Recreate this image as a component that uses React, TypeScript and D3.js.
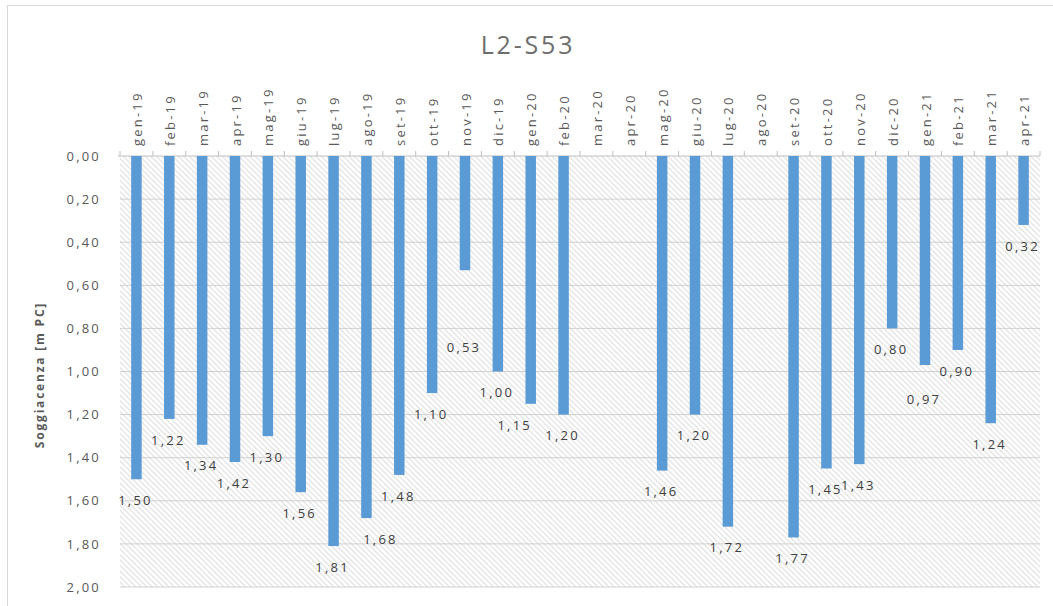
import React from "react";
import * as d3 from "d3";

const title = "L2-S53";
const yAxisTitle = "Soggiacenza [m PC]";
const categories = [
  "gen-19", "feb-19", "mar-19", "apr-19", "mag-19", "giu-19", "lug-19", "ago-19",
  "set-19", "ott-19", "nov-19", "dic-19", "gen-20", "feb-20", "mar-20", "apr-20",
  "mag-20", "giu-20", "lug-20", "ago-20", "set-20", "ott-20", "nov-20", "dic-20",
  "gen-21", "feb-21", "mar-21", "apr-21",
];
const values: (number | null)[] = [
  1.5, 1.22, 1.34, 1.42, 1.3, 1.56, 1.81, 1.68,
  1.48, 1.1, 0.53, 1.0, 1.15, 1.2, null, null,
  1.46, 1.2, 1.72, null, 1.77, 1.45, 1.43, 0.8,
  0.97, 0.9, 1.24, 0.32,
];
const yTicks = [0, 0.2, 0.4, 0.6, 0.8, 1.0, 1.2, 1.4, 1.6, 1.8, 2.0];

// label nudges (layout only) for labels moved in the original
const labelNudge: Record<string, [number, number]> = {
  "ago-19": [15, 0],
  "nov-19": [0, 56],
  "gen-20": [-15, 0],
  "gen-21": [0, 13],
};

const W = 1053;
const H = 606;
const M = { left: 120, right: 1040, top: 156, bottom: 587 };

const fmt = (v: number) => v.toFixed(2).replace(".", ",");

export default function App() {
  const x = d3.scaleBand<string>().domain(categories).range([M.left, M.right]).paddingInner(0).paddingOuter(0);
  const y = d3.scaleLinear().domain([0, 2]).range([M.top, M.bottom]);
  const barW = 10.5;
  const font = "'Open Sans', 'Liberation Sans', Arial, sans-serif";
  const bw = x.bandwidth();

  return (
    <svg width={W} height={H} style={{ position: "absolute", left: 0, top: 0, background: "#fff" }} fontFamily={font}>
      <defs>
        <pattern id="hatch" patternUnits="userSpaceOnUse" width={5.5} height={5.5}>
          <rect width={5.5} height={5.5} fill="#ffffff" />
          <path d="M-1,-1 L6.5,6.5 M-6.5,-1 L1,6.5 M4.5,-1 L12,6.5" stroke="#dadada" strokeWidth={1} />
        </pattern>
      </defs>
      <rect x={7.5} y={5.5} width={1070} height={640} fill="#fff" stroke="#d9d9d9" strokeWidth={1} />
      <text x={528} y={54} textAnchor="middle" fontSize={25} letterSpacing={2.8} fill="#6e6e6e">{title}</text>

      <rect x={M.left} y={M.top} width={M.right - M.left} height={M.bottom - M.top} fill="url(#hatch)" />

      {yTicks.map((t) => (
        <g key={t}>
          {t > 0 && <line x1={M.left} x2={M.right} y1={y(t)} y2={y(t)} stroke="#d0d0d0" strokeWidth={1} />}
          <text x={101} y={y(t)} dy="0.36em" textAnchor="end" fontSize={13} letterSpacing={2.2} fill="#595959">{fmt(t)}</text>
        </g>
      ))}

      {/* top axis line */}
      <line x1={M.left - 2} x2={M.right} y1={M.top} y2={M.top} stroke="#bfbfbf" strokeWidth={1} />
      {categories.map((c) => (
        <line key={"t" + c} x1={(x(c) as number)} x2={(x(c) as number)} y1={M.top} y2={M.top - 5} stroke="#bfbfbf" strokeWidth={1} />
      ))}
      <line x1={M.right} x2={M.right} y1={M.top} y2={M.top - 5} stroke="#bfbfbf" strokeWidth={1} />

      {categories.map((c) => {
        const cx = (x(c) as number) + bw / 2;
        return (
          <text key={"c" + c} transform={`translate(${cx + 1},146) rotate(-90)`} dy="0.35em" textAnchor="start" fontSize={13} letterSpacing={2.2} fill="#595959">{c}</text>
        );
      })}

      {categories.map((c, i) => {
        const v = values[i];
        if (v == null) return null;
        const cx = (x(c) as number) + bw / 2;
        return <rect key={"b" + c} x={cx - barW / 2} y={y(0)} width={barW} height={y(v) - y(0)} fill="#5B9BD5" />;
      })}

      {categories.map((c, i) => {
        const v = values[i];
        if (v == null) return null;
        const cx = (x(c) as number) + bw / 2;
        const [ndx, ndy] = labelNudge[c] || [0, 0];
        return (
          <text key={"l" + c} x={cx - 1 + ndx} y={y(v) + 21 + ndy} dy="0.36em" textAnchor="middle" fontSize={13} letterSpacing={2.2} fill="#404040">{fmt(v)}</text>
        );
      })}

      <text transform={`translate(40,375) rotate(-90)`} dy="0.35em" textAnchor="middle" fontSize={12} fontWeight="bold" letterSpacing={1.8} fill="#595959">{yAxisTitle}</text>
    </svg>
  );
}
